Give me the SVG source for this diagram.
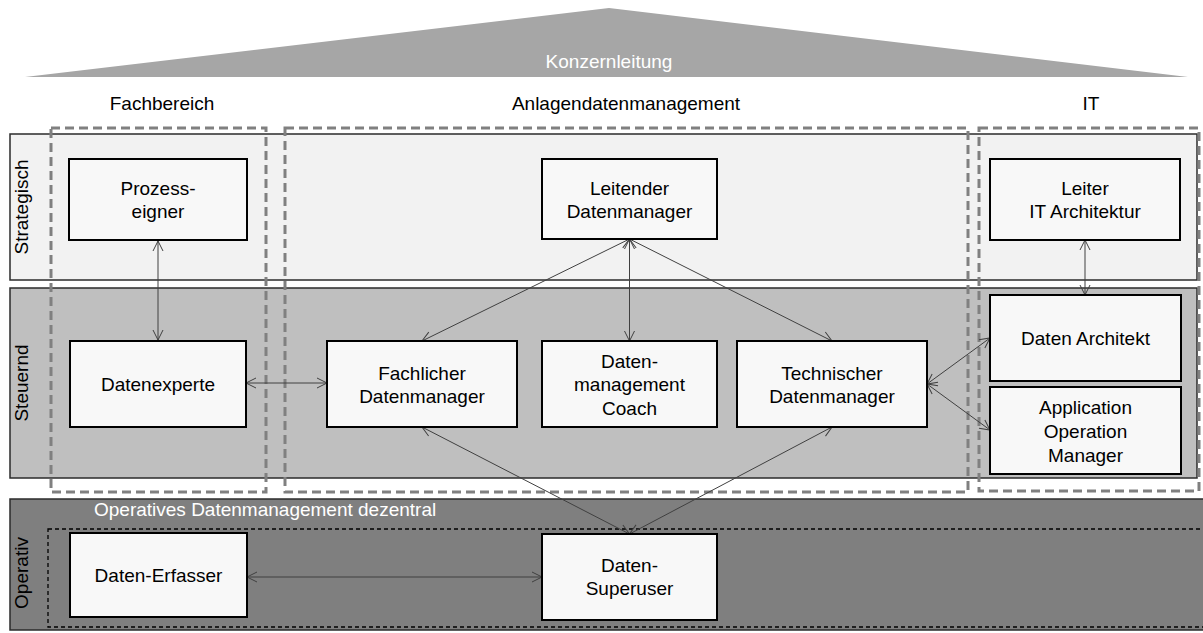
<svg xmlns="http://www.w3.org/2000/svg" width="1203" height="633" viewBox="0 0 1203 633">
  <style>
    text { font-family: "Liberation Sans", Arial, sans-serif; font-size: 19px; fill: #000; }
    .mid { text-anchor: middle; }
    .white { fill: #ffffff; }
    .lane { stroke: #2b2b2b; stroke-width: 1.5; }
    .node rect { fill: #f8f8f8; stroke: #000; stroke-width: 2; }
    .area { fill: none; stroke: #808080; stroke-width: 3; stroke-dasharray: 9 5; }
    .inner { fill: none; stroke: #000; stroke-width: 1.3; stroke-dasharray: 4 3; }
    .conn line { stroke: #404040; stroke-width: 1; marker-start: url(#arr); marker-end: url(#arr); }
  </style>
  <defs>
    <marker id="arr" viewBox="0 0 12 12" refX="11" refY="6" markerWidth="12" markerHeight="12" markerUnits="userSpaceOnUse" orient="auto-start-reverse">
      <path d="M1,1 L11,6 L1,11" fill="none" stroke="#404040" stroke-width="1"/>
    </marker>
  </defs>

  <!-- roof: group management -->
  <g id="roof">
    <polygon points="25,77 609,8 1188,77" fill="#a6a6a6"/>
    <text class="mid white" x="609" y="68">Konzernleitung</text>
  </g>

  <!-- column headings -->
  <g id="headings">
    <text class="mid" x="162" y="110">Fachbereich</text>
    <text class="mid" x="626" y="110">Anlagendatenmanagement</text>
    <text class="mid" x="1091" y="110">IT</text>
  </g>

  <!-- horizontal lanes -->
  <g id="lanes">
    <rect class="lane" x="10" y="134" width="1187" height="146" fill="#f2f2f2"/>
    <rect class="lane" x="10" y="288" width="1187" height="190" fill="#bfbfbf"/>
    <rect class="lane" x="10" y="499" width="1195" height="131" fill="#7f7f7f"/>
    <text class="mid" transform="translate(28,207) rotate(-90)">Strategisch</text>
    <text class="mid" transform="translate(28,383) rotate(-90)">Steuernd</text>
    <text class="mid" transform="translate(28,573) rotate(-90)">Operativ</text>
  </g>

  <!-- organisational areas -->
  <g id="areas">
    <rect class="area" x="51" y="128" width="215" height="364"/>
    <rect class="area" x="285" y="128" width="683" height="364"/>
    <rect class="area" x="979" y="128" width="220" height="363"/>
    <rect class="inner" x="48" y="529" width="1160" height="98"/>
    <text class="white" x="94" y="516">Operatives Datenmanagement dezentral</text>
  </g>

  <!-- connectors -->
  <g id="connectors" class="conn">
    <line x1="158" y1="241" x2="158" y2="340"/>
    <line x1="629.5" y1="239" x2="422" y2="341"/>
    <line x1="629.5" y1="239" x2="629.5" y2="341"/>
    <line x1="629.5" y1="239" x2="832" y2="341"/>
    <line x1="246" y1="383" x2="327" y2="383"/>
    <line x1="422" y1="427" x2="629.5" y2="534"/>
    <line x1="832" y1="427" x2="629.5" y2="534"/>
    <line x1="927" y1="384" x2="990" y2="338"/>
    <line x1="927" y1="384" x2="990" y2="430"/>
    <line x1="1085" y1="240" x2="1085" y2="295"/>
    <line x1="247" y1="577" x2="542" y2="577"/>
  </g>

  <!-- strategic level -->
  <g id="prozesseigner" class="node">
    <rect x="69" y="159" width="178" height="81"/>
    <text class="mid" x="158" y="195">Prozess-</text>
    <text class="mid" x="158" y="218">eigner</text>
  </g>
  <g id="leitender-datenmanager" class="node">
    <rect x="542" y="159" width="175" height="80"/>
    <text class="mid" x="629.5" y="195">Leitender</text>
    <text class="mid" x="629.5" y="218">Datenmanager</text>
  </g>
  <g id="leiter-it-architektur" class="node">
    <rect x="990" y="159" width="190" height="81"/>
    <text class="mid" x="1085" y="195">Leiter</text>
    <text class="mid" x="1085" y="218">IT Architektur</text>
  </g>

  <!-- steering level -->
  <g id="datenexperte" class="node">
    <rect x="70" y="341" width="176" height="86"/>
    <text class="mid" x="158" y="391">Datenexperte</text>
  </g>
  <g id="fachlicher-datenmanager" class="node">
    <rect x="327" y="341" width="190" height="86"/>
    <text class="mid" x="422" y="379.5">Fachlicher</text>
    <text class="mid" x="422" y="402.5">Datenmanager</text>
  </g>
  <g id="datenmanagement-coach" class="node">
    <rect x="542" y="341" width="175" height="86"/>
    <text class="mid" x="629.5" y="367.5">Daten-</text>
    <text class="mid" x="629.5" y="391">management</text>
    <text class="mid" x="629.5" y="414.5">Coach</text>
  </g>
  <g id="technischer-datenmanager" class="node">
    <rect x="737" y="341" width="190" height="86"/>
    <text class="mid" x="832" y="379.5">Technischer</text>
    <text class="mid" x="832" y="402.5">Datenmanager</text>
  </g>
  <g id="daten-architekt" class="node">
    <rect x="990" y="295" width="191" height="86"/>
    <text class="mid" x="1085.5" y="345">Daten Architekt</text>
  </g>
  <g id="application-operation-manager" class="node">
    <rect x="990" y="387" width="191" height="87"/>
    <text class="mid" x="1085.5" y="414">Application</text>
    <text class="mid" x="1085.5" y="438">Operation</text>
    <text class="mid" x="1085.5" y="462">Manager</text>
  </g>

  <!-- operative level -->
  <g id="daten-erfasser" class="node">
    <rect x="70" y="533" width="177" height="84"/>
    <text class="mid" x="158.5" y="582">Daten-Erfasser</text>
  </g>
  <g id="daten-superuser" class="node">
    <rect x="542" y="534" width="175" height="86"/>
    <text class="mid" x="629.5" y="572">Daten-</text>
    <text class="mid" x="629.5" y="595">Superuser</text>
  </g>
</svg>
